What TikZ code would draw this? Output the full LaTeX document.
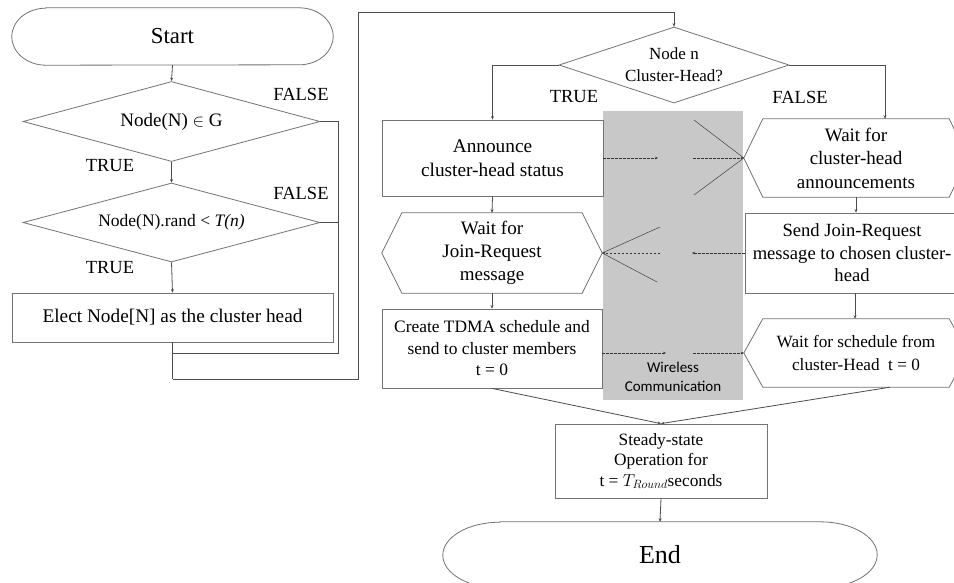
\documentclass[tikz,border=0pt]{standalone}
\usepackage{fontspec}
\setmainfont{Liberation Serif}
\newfontfamily\carlitofont{Carlito}
\usetikzlibrary{shapes.geometric,arrows.meta,calc}
\definecolor{wirelessgrey}{RGB}{200,200,200}
\tikzset{
  shapeline/.style={draw=black!55, line width=0.8pt},
  conn/.style={draw=black!70, line width=0.8pt, -{Stealth[length=3.5pt,width=3pt]}},
  plainline/.style={draw=black!70, line width=0.8pt},
  dashconn/.style={draw=black!80, line width=0.6pt, dash pattern=on 2.5pt off 1.5pt, -{Stealth[length=3pt,width=2.5pt]}},
  fanline/.style={draw=black!75, line width=0.5pt},
  boxnode/.style={shapeline, fill=white, rectangle, inner sep=0pt, align=center},
  hexnode/.style={rectangle, inner sep=0pt, align=center},
  termnode/.style={rectangle, inner sep=0pt, align=center},
  decnode/.style={shapeline, fill=white, diamond, inner sep=0pt, align=center},
  lbl/.style={inner sep=0pt, font=\fontsize{18.5}{22}\selectfont},
}
\newcommand\hexdraw[2]{%
  \draw[shapeline, fill=white] (#1.west) -- ([xshift=#2]#1.north west) -- ([xshift=-#2]#1.north east) -- (#1.east) -- ([xshift=-#2]#1.south east) -- ([xshift=#2]#1.south west) -- cycle;}
\newcommand\stadiumdraw[3]{%
  \draw[shapeline, fill=white] ([xshift=#2]#1.north west) -- ([xshift=-#2]#1.north east)
    arc[start angle=90,end angle=-90,x radius=#2,y radius=#3]
    -- ([xshift=#2]#1.south west)
    arc[start angle=270,end angle=90,x radius=#2,y radius=#3] -- cycle;}
\begin{document}
\begin{tikzpicture}[x=1pt,y=-1pt]
\clip (0,0) rectangle (954,582);
\fill[white] (0,0) rectangle (954,582);

% grey wireless band
\fill[wirelessgrey] (603,111) rectangle (743,400);

% ---------- left part ----------
\node[termnode, minimum width=321pt, minimum height=57pt] (start) at (172.5,36.5) {};
\stadiumdraw{start}{34pt}{28.5pt}
\node[font=\fontsize{22.8}{26}\selectfont] at (start) {Start};

\node[decnode, aspect=3.7, minimum width=297pt, minimum height=80pt, font=\fontsize{19}{22}\selectfont] (d1) at (171.5,121.5) {Node(N) $\in$ G};
\node[decnode, aspect=3.7, minimum width=297pt, minimum height=79pt, font=\fontsize{17.5}{21}\selectfont] (d2) at (171.5,222.5) {Node(N).rand < \textit{T(n)}};
\node[boxnode, minimum width=321pt, minimum height=49pt, font=\fontsize{19.3}{22}\selectfont] (elect) at (172.5,317.5) {Elect Node[N] as the cluster head};

\node[lbl] (f1) at (301,94) {FALSE};
\node[lbl] (t1) at (110,166) {TRUE};
\node[lbl] (f2) at (301,193) {FALSE};
\node[lbl] (t2) at (110,268) {TRUE};

\coordinate (r1) at (338,353);
\coordinate (j1) at (172.5,353);
\coordinate (j2) at (172.5,379);
\coordinate (looptop) at (358,12);

\draw[conn] (start.south) -- (d1.north);
\draw[conn] (d1.south) -- (d2.north);
\draw[conn] (d2.south) -- (elect.north);
\draw[plainline] (d1.east) -| (r1) -- (j1);
\draw[plainline] (d2.east) -- (d2.east -| r1);
\draw[plainline] (elect.south) -- (j2);

% ---------- right part ----------
\node[decnode, aspect=3, minimum width=230pt, minimum height=76pt, font=\fontsize{17}{22}\selectfont] (d3) at (674,65) {Node n\\Cluster-Head?};
\draw[conn] (j2) -| (looptop) -| (d3.north);

\node[lbl] (t3) at (574,97) {TRUE};
\node[lbl] (f3) at (800,97) {FALSE};

\node[boxnode, minimum width=221pt, minimum height=76pt, font=\fontsize{19.3}{23.5}\selectfont] (announce) at (492.5,158) {Announce\\cluster-head status};

\node[hexnode, minimum width=224pt, minimum height=78pt] (hexA) at (856,158) {};
\hexdraw{hexA}{19pt}
\node[align=center, font=\fontsize{19}{23.5}\selectfont] at (hexA) {Wait for\\cluster-head\\announcements};

\node[hexnode, minimum width=220pt, minimum height=80pt] (hexB) at (492,253) {};
\hexdraw{hexB}{20pt}
\node[align=center, font=\fontsize{19}{23}\selectfont] at (hexB) {Wait for\\Join-Request\\message};

\node[boxnode, minimum width=220pt, minimum height=80pt] (send) at (855,253) {};
\node[align=center, inner sep=0pt, font=\fontsize{18.6}{22.5}\selectfont] at ([xshift=-3pt]send.center) {Send Join-Request\\message to chosen cluster-\\head};

\node[boxnode, minimum width=220pt, minimum height=79pt, font=\fontsize{17.4}{21.5}\selectfont] (create) at (492,348.5) {Create TDMA schedule and\\send to cluster members\\t = 0};

\node[hexnode, minimum width=224pt, minimum height=68pt] (hexC) at (856,353) {};
\hexdraw{hexC}{19pt}
\node[align=center, font=\fontsize{17.2}{23}\selectfont] at (hexC) {Wait for schedule from\\cluster-Head~ t = 0};

\node[boxnode, minimum width=212pt, minimum height=74pt, font=\fontsize{17.3}{20.5}\selectfont] (steady) at (661,461) {Steady-state\\Operation for\\t = $T_{Round}$seconds};

\node[termnode, minimum width=434pt, minimum height=66pt] (endn) at (660,555) {};
\stadiumdraw{endn}{57pt}{33pt}
\node[font=\fontsize{26}{30}\selectfont] at (endn) {End};

\node[align=center, font=\carlitofont\fontsize{15}{19}\selectfont] (wireless) at (673,376.5) {Wireless\\Communication};

% connectors right
\draw[conn] (d3.west) -| (announce.north);
\draw[conn] (d3.east) -| ([xshift=29pt]hexA.north);
\draw[conn] (announce.south) -- (hexB.north);
\draw[conn] (hexA.south) -- (hexA.south |- send.north);
\draw[conn] (hexB.south) -- (create.north);
\draw[conn] (send.south) -- (send.south |- hexC.north);
\draw[conn] (create.south) -- (steady.north);
\draw[conn] ([xshift=34pt]hexC.south) -- (steady.north);
\draw[conn] (steady.south) -- (endn.north);

% wireless dashed arrows
\coordinate (w1a) at (658,158);
\coordinate (w1b) at (693,158);
\coordinate (fa1) at (694,120);
\coordinate (fa2) at (694,195);
\draw[dashconn] (announce.east |- hexA.west) -- (w1a);
\draw[dashconn] (w1b) -- (hexA.west);
\draw[fanline] (fa1) -- (hexA.west);
\draw[fanline] (fa2) -- (hexA.west);

\coordinate (w2a) at (692,253);
\coordinate (w2b) at (660,253);
\coordinate (fb1) at (660,227);
\coordinate (fb2) at (657,282);
\draw[dashconn] (send.west) -- (w2a);
\draw[dashconn] (w2b) -- (hexB.east);
\draw[fanline] (fb1) -- (hexB.east);
\draw[fanline] (fb2) -- (hexB.east);

\coordinate (w3a) at (666,353);
\coordinate (w3b) at (693,353);
\draw[dashconn] (create.east |- hexC.west) -- (w3a);
\draw[dashconn] (w3b) -- (hexC.west);
\end{tikzpicture}
\end{document}
